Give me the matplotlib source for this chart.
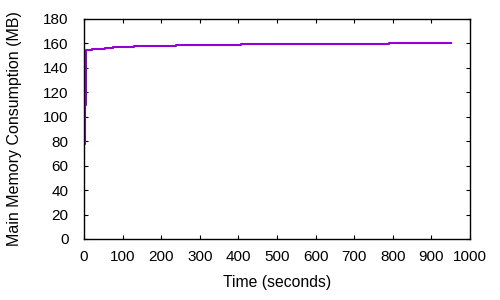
import matplotlib
matplotlib.use("Agg")
import matplotlib.pyplot as plt

time_s = [0, 3, 5, 22, 55, 76, 130, 238, 407, 790, 952]
memory_mb = [78, 110, 154.6, 155.4, 156.2, 157.0, 157.8, 158.7, 159.4, 160.2, 160.2]
xticks = list(range(0, 1001, 100))
yticks = list(range(0, 181, 20))

plt.rcParams['font.family'] = ['Liberation Sans', 'DejaVu Sans']

fig = plt.figure(figsize=(5, 3), dpi=100)
ax = fig.add_axes([84/500, 1-239/300, (470-84)/500, (239-19)/300])
ax.step(time_s, memory_mb, where='post', color='#9400D3', linewidth=1.5)
ax.set_xlim(0, 1000)
ax.set_ylim(0, 180)
ax.set_xticks(xticks)
ax.set_yticks(yticks)
ax.tick_params(direction='in', top=True, right=True, length=3.2, width=0.8, labelsize=11)
ax.tick_params(axis='y', pad=11)
ax.tick_params(axis='x', pad=8)
for s in ax.spines.values():
    s.set_linewidth(1)
ax.set_xlabel('Time (seconds)', fontsize=11.3)
ax.set_ylabel('Main Memory Consumption (MB)', fontsize=11.5)
ax.xaxis.set_label_coords(0.5, -0.165)
ax.yaxis.set_label_coords(-0.16, 0.5)
fig.savefig('out.png', dpi=100)
